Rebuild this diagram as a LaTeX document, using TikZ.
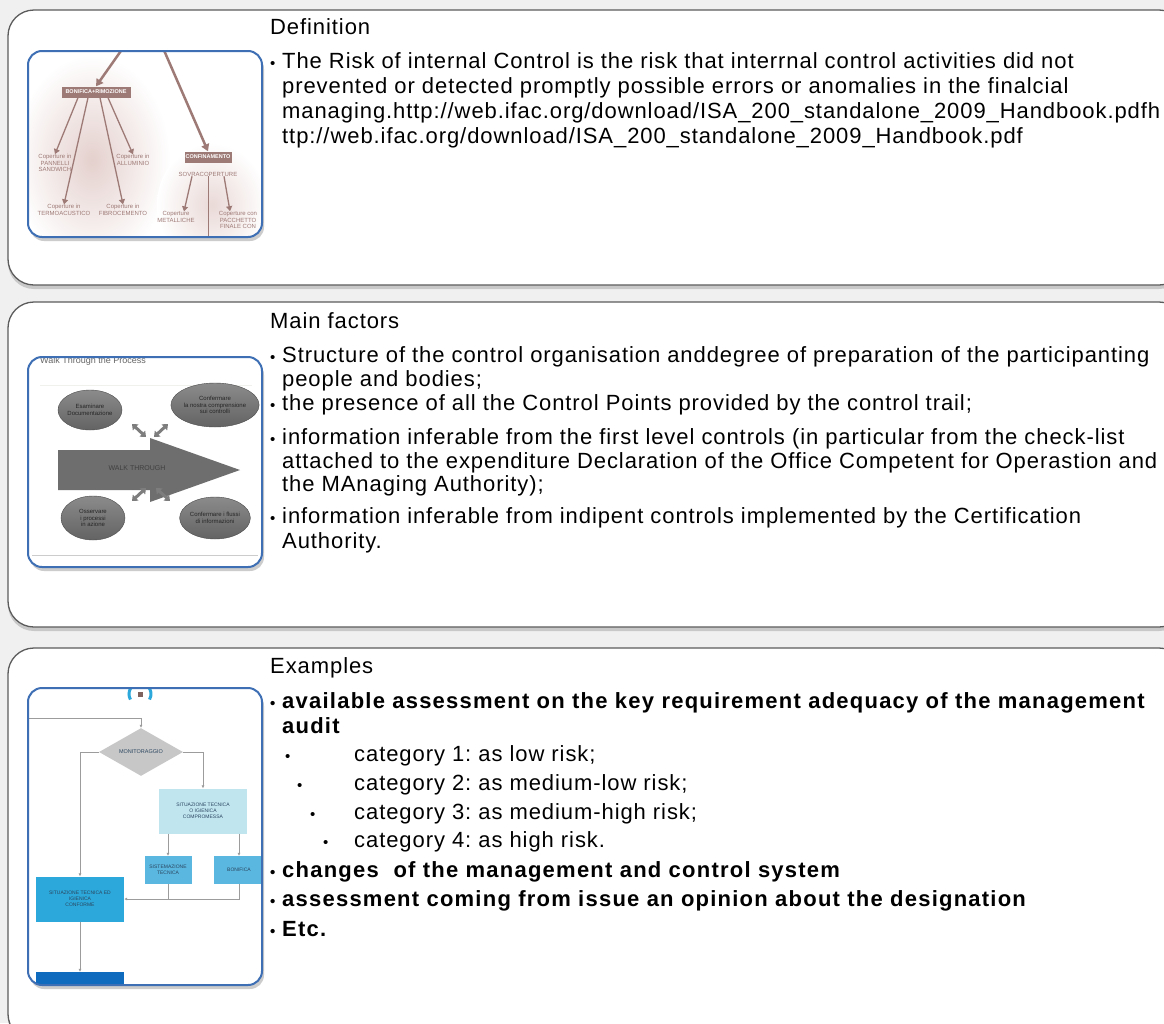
\documentclass[tikz,border=0pt]{standalone}
\usepackage{fontspec}
\setmainfont{Liberation Sans}
\newfontfamily\bodyfont{Liberation Sans}[LetterSpace=4.2, BoldFeatures={LetterSpace=5.6}]
\usetikzlibrary{arrows.meta,shapes.geometric,shadows,calc}
\definecolor{cBg}{HTML}{F0F0F0}
\definecolor{cFrame}{HTML}{5C5C5C}
\definecolor{cThumb}{HTML}{3E6FB4}
\definecolor{cBrown}{HTML}{9E7A76}
\definecolor{cPink}{HTML}{E4D0CD}
\definecolor{cWalk}{HTML}{6E6E6E}
\definecolor{cFline}{HTML}{9C9C9C}
\definecolor{cCyan}{HTML}{2CA8DA}
\definecolor{cCyanL}{HTML}{C0E5EF}
\definecolor{cCyanM}{HTML}{5AB7E0}
\definecolor{cNavy}{HTML}{0F6BBE}
\definecolor{cFtext}{HTML}{2B4660}
\newcommand\bul{\makebox[12pt][l]{\fontsize{15}{15}\selectfont\textbullet}}
\frenchspacing

\begin{document}
\begin{tikzpicture}[
  x=1pt, y=-1pt,
  panel/.style={draw=cFrame, line width=1.3pt, fill=white, rounded corners=26pt,
                drop shadow={shadow xshift=0pt, shadow yshift=-4pt, opacity=0.35}},
  thumbbg/.style={fill=white, rounded corners=14pt,
                drop shadow={shadow xshift=2pt, shadow yshift=-4pt, opacity=0.4}},
  thumbedge/.style={draw=cThumb, line width=2pt, rounded corners=14pt},
  hdr/.style={anchor=base west, inner sep=0pt, font=\bodyfont\fontsize{22}{25}\selectfont},
  txt/.style={anchor=base west, inner sep=0pt, font=\bodyfont\fontsize{22}{25}\selectfont},
  btxt/.style={anchor=base west, inner sep=0pt, font=\bodyfont\fontsize{22}{25}\selectfont\bfseries},
  ctxt/.style={anchor=base west, inner sep=0pt, font=\bodyfont\fontsize{22}{25}\selectfont},
  tiny/.style={font=\fontsize{6}{6.5}\selectfont, align=center, inner sep=0pt},
  brbox/.style={fill=cBrown, text=white, font=\fontsize{5.5}{6}\selectfont\bfseries, inner sep=1pt},
  brarrow/.style={-{Triangle[length=7pt,width=8pt]}, draw=cBrown, line width=2.5pt},
  brthin/.style={-{Triangle[length=5pt,width=6pt]}, draw=cBrown, line width=1.3pt},
  blob/.style={ellipse, draw=black!70, top color=cWalk!80, bottom color=cWalk!90!black,
               text=black!85, font=\fontsize{6}{6.5}\selectfont, align=center, inner sep=0pt},
  dbl/.style={{Triangle[length=5pt,width=8pt]}-{Triangle[length=5pt,width=8pt]}, draw=cWalk!90, line width=3pt},
  fbox/.style={rectangle, text=cFtext, font=\fontsize{5}{6}\selectfont, align=center, inner sep=0pt},
  fl/.style={-{Latex[length=3pt,width=3pt]}, draw=cFline, line width=1pt},
]
\useasboundingbox (0,0) rectangle (1164,1023);
\clip (0,0) rectangle (1164,1023);
\fill[cBg] (0,0) rectangle (1164,1023);

% ---------- Panels ----------
\draw[panel] (8,10) rectangle (1185,285);
\draw[panel] (8,302) rectangle (1185,627);
\draw[panel] (8,648) rectangle (1185,1040);

% ---------- Thumbnail 1 ----------
\fill[thumbbg] (28,51) rectangle (262,237);
\begin{scope}
  \clip[rounded corners=14pt] (28,51) rectangle (262,237);
  \shade[inner color=cPink, outer color=white] (92,160) ellipse [x radius=78, y radius=105];
  \shade[inner color=cPink!80, outer color=white] (212,205) ellipse [x radius=55, y radius=62];
  \node[brbox, minimum width=69pt, minimum height=11pt] (bonifica) at (96,92) {BONIFICA+RIMOZIONE};
  \node[brbox, minimum width=47pt, minimum height=11pt] (confin) at (208,157) {CONFINAMENTO};
  \node[tiny, text=cBrown] (sovra) at (208,174) {SOVRACOPERTURE};
  \coordinate (topA) at (123,48);
  \coordinate (topB) at (163,48);
  \draw[brarrow] (topA) -- (bonifica.north);
  \draw[brarrow] (topB) -- (confin.north);
  \node[tiny, text=cBrown] (pannelli) at (55,163) {Coperture in\\PANNELLI\\SANDWICH};
  \node[tiny, text=cBrown] (termo) at (64,210) {Coperture in\\TERMOACUSTICO};
  \node[tiny, text=cBrown] (fibro) at (123,210) {Coperture in\\FIBROCEMENTO};
  \node[tiny, text=cBrown] (allum) at (133,160) {Coperture in\\ALLUMINIO};
  \node[tiny, text=cBrown] (metal) at (176,217) {Coperture\\METALLICHE};
  \node[tiny, text=cBrown] (pacch) at (238,220) {Coperture con\\PACCHETTO\\FINALE CON};
  \draw[brthin] ([xshift=-18pt]bonifica.south) -- (pannelli.north);
  \draw[brthin] ([xshift=-8pt]bonifica.south) -- (termo.north);
  \draw[brthin] ([xshift=4pt]bonifica.south) -- (fibro.north);
  \draw[brthin] ([xshift=12pt]bonifica.south) -- (allum.north);
  \draw[brthin] ([xshift=-16pt]sovra.south) -- ([xshift=8pt]metal.north);
  \draw[brthin] ([xshift=16pt]sovra.south) -- ([xshift=-8pt]pacch.north);
  \draw[cBrown, line width=1pt] (sovra.south) -- ++(0,60);
\end{scope}
\draw[thumbedge] (28,51) rectangle (262,237);

% ---------- Thumbnail 2 ----------
\fill[thumbbg] (28,357) rectangle (262,567);
\begin{scope}
  \clip[rounded corners=14pt] (28,357) rectangle (262,567);
  \node[anchor=west, text=black!60, font=\fontsize{9}{10}\selectfont, inner sep=0pt] (walkttl) at (40,361) {Walk Through the Process};
  \draw[yellow!15!black!8, line width=1pt] (40,385) -- (252,385);
  \fill[cWalk] (58,450) -- (150,450) -- (150,438) -- (240,470) -- (150,502) -- (150,490) -- (58,490) -- cycle;
  \node[text=black!75, font=\fontsize{7}{8}\selectfont] (walk) at (137,468) {WALK THROUGH};
  \node[blob, minimum width=64pt, minimum height=40pt] (esam) at (90,410) {Esaminare\\Documentazione};
  \node[blob, minimum width=68pt, minimum height=44pt] (confc) at (215,405) {Confermare\\la nostra comprensione\\sui controlli};
  \node[blob, minimum width=64pt, minimum height=44pt] (osserv) at (93,518) {Osservare\\i processi\\in azione};
  \node[blob, minimum width=68pt, minimum height=42pt] (conff) at (215,518) {Confermare i flussi\\di informazioni};
  \draw[dbl] (132,424) -- (146,437);
  \draw[dbl] (168,424) -- (154,437);
  \draw[dbl] (146,488) -- (132,501);
  \draw[dbl] (156,488) -- (170,501);
  \draw[black!20, line width=0.6pt] (32,555) -- (258,555);
\end{scope}
\draw[thumbedge] (28,357) rectangle (262,567);

% ---------- Thumbnail 3 ----------
\fill[thumbbg] (28,688) rectangle (262,985);
\begin{scope}
  \clip[rounded corners=14pt] (28,688) rectangle (262,985);
  \coordinate (icon) at (140,694);
  \draw[cCyan, line width=3pt] ([shift={(150:11)}]icon) arc[start angle=150, end angle=250, radius=11];
  \draw[cCyan, line width=3pt] ([shift={(-70:11)}]icon) arc[start angle=-70, end angle=30, radius=11];
  \fill[cBrown!80!black] ([shift={(-2,-2)}]icon) rectangle ([shift={(3,3)}]icon);
  \node[diamond, fill=black!22, minimum width=84pt, minimum height=43pt, inner sep=0pt,
        text=cFtext, font=\fontsize{5.5}{6}\selectfont] (monit) at (141,752) {MONITORAGGIO};
  \node[fbox, fill=cCyanL, minimum width=88pt, minimum height=45pt] (compro) at (203,811) {SITUAZIONE TECNICA\\O IGIENICA\\COMPROMESSA};
  \node[fbox, fill=cCyanM, minimum width=47pt, minimum height=28pt] (sistem) at (168,870) {SISTEMAZIONE\\TECNICA};
  \node[fbox, fill=cCyanM, minimum width=50pt, minimum height=28pt] (bonif) at (239,870) {BONIFICA};
  \node[fbox, fill=cCyan, minimum width=88pt, minimum height=45pt] (conf) at (80,899) {SITUAZIONE TECNICA ED\\IGIENICA\\CONFORME};
  \node[fbox, fill=cNavy, minimum width=88pt, minimum height=20pt] (navy) at (80,982) {};
  \coordinate (inL) at (26,718);
  \draw[fl] (inL) -| (monit.north);
  \draw[fl] (monit.west) -| (conf.north);
  \draw[fl] (monit.east) -| (compro.north);
  \draw[fl] (sistem.north |- compro.south) -- (sistem.north);
  \draw[fl] (bonif.north |- compro.south) -- (bonif.north);
  \draw[fl] (bonif.south) |- (conf.east);
  \draw[cFline, line width=1pt] (sistem.south) -- (sistem.south |- conf.east);
  \draw[fl] (conf.south) -- (navy.north);
\end{scope}
\draw[thumbedge] (28,688) rectangle (262,985);

% ---------- Definition ----------
\node[hdr] (hdrA) at (270,34) {Definition};
\node[txt] (defA1) at (270,68) {\bul The Risk of internal Control is the risk that interrnal control activities did not};
\node[txt] (defA2) at (282,93) {prevented or detected promptly possible errors or anomalies in the finalcial};
\node[txt] (defA3) at (282,118) {managing.http://web.ifac.org/download/ISA\_200\_standalone\_2009\_Handbook.pdfh};
\node[txt] (defA4) at (282,143) {ttp://web.ifac.org/download/ISA\_200\_standalone\_2009\_Handbook.pdf};

% ---------- Main factors ----------
\node[hdr] (hdrB) at (270,328) {Main factors};
\node[txt] (facB1) at (270,362) {\bul Structure of the control organisation anddegree of preparation of the participanting};
\node[txt] (facB2) at (282,386) {people and bodies;};
\node[txt] (facB3) at (270,410) {\bul the presence of all the Control Points provided by the control trail;};
\node[txt] (facB4) at (270,444) {\bul information inferable from the first level controls (in particular from the check-list};
\node[txt] (facB5) at (282,468) {attached to the expenditure Declaration of the Office Competent for Operastion and};
\node[txt] (facB6) at (282,491) {the MAnaging Authority);};
\node[txt] (facB7) at (270,523) {\bul information inferable from indipent controls implemented by the Certification};
\node[txt] (facB8) at (282,548) {Authority.};

% ---------- Examples ----------
\node[hdr] (hdrC) at (270,673) {Examples};
\node[btxt] (exC1) at (270,708) {\bul available assessment on the key requirement adequacy of the management};
\node[btxt] (exC2) at (282,733) {audit};
\node[ctxt] (catC1b) at (285,761) {\bul};
\node[ctxt] (catC1) at (354,761) {category 1: as low risk;};
\node[ctxt] (catC2b) at (297,790) {\bul};
\node[ctxt] (catC2) at (354,790) {category 2: as medium-low risk;};
\node[ctxt] (catC3b) at (310,819) {\bul};
\node[ctxt] (catC3) at (354,819) {category 3: as medium-high risk;};
\node[ctxt] (catC4b) at (323,847) {\bul};
\node[ctxt] (catC4) at (354,847) {category 4: as high risk.};
\node[btxt] (exC3) at (270,877) {\bul changes\ \ of the management and control system};
\node[btxt] (exC4) at (270,906) {\bul assessment coming from issue an opinion about the designation};
\node[btxt] (exC5) at (270,936) {\bul Etc.};

\end{tikzpicture}
\end{document}
